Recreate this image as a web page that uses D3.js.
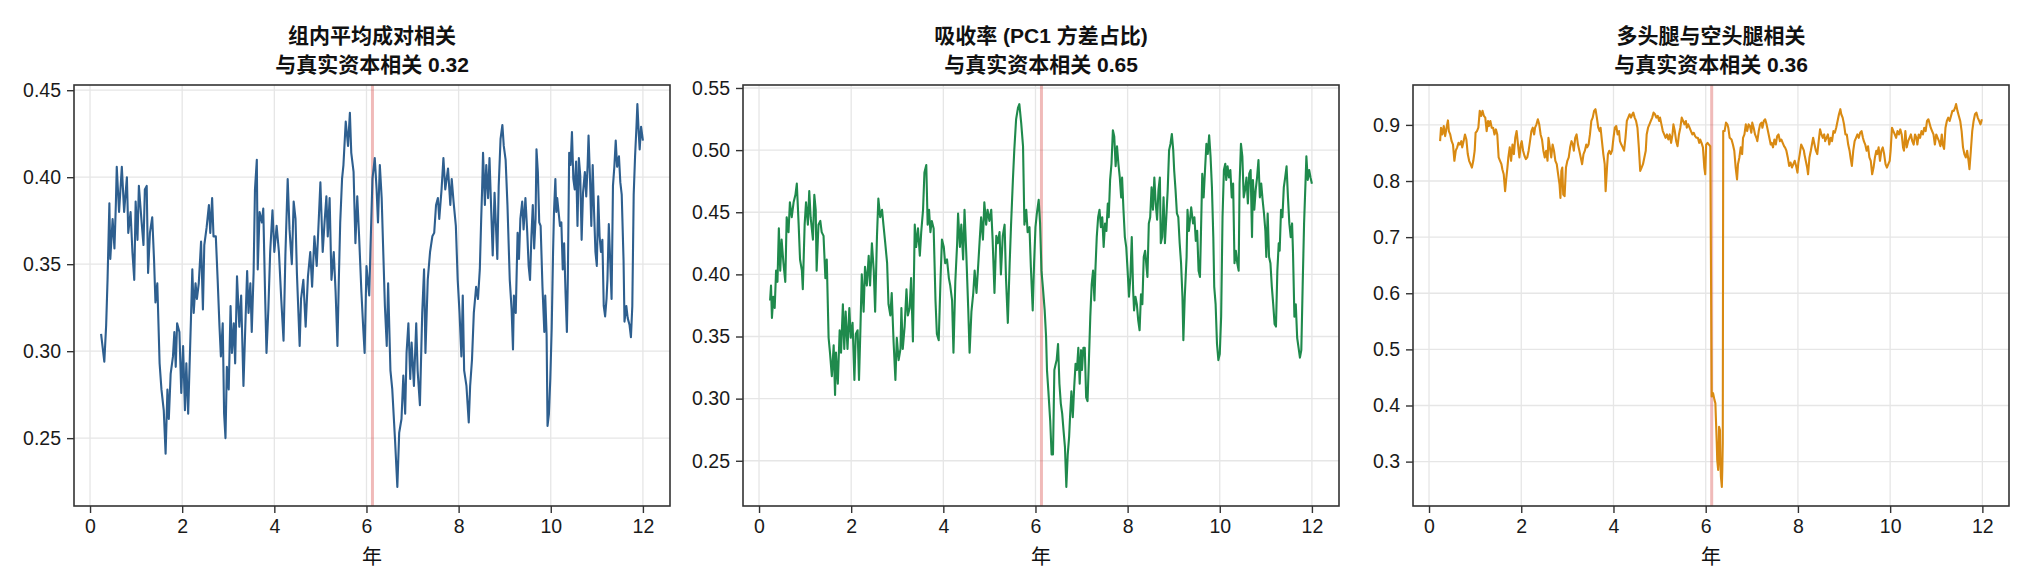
<!DOCTYPE html>
<html><head><meta charset="utf-8">
<script src="https://cdn.jsdelivr.net/npm/d3@7"></script>
<style>
html,body{margin:0;padding:0;background:#fff;}
svg{display:block;font-family:"Liberation Sans","Noto Sans CJK SC",sans-serif;}
</style></head>
<body><svg id="chart" width="2030" height="588"></svg>
<script>
// ---- data (year, value) ----
const titles = [
  ["组内平均成对相关", "与真实资本相关 0.32"],
  ["吸收率 (PC1 方差占比)", "与真实资本相关 0.65"],
  ["多头腿与空头腿相关", "与真实资本相关 0.36"]
];
const xLabel = "年";
const xTicks = [0, 2, 4, 6, 8, 10, 12];
const yTicks1 = [0.25, 0.30, 0.35, 0.40, 0.45];
const yTicks2 = [0.25, 0.30, 0.35, 0.40, 0.45, 0.50, 0.55];
const yTicks3 = [0.3, 0.4, 0.5, 0.6, 0.7, 0.8, 0.9];
const eventYear = 6.13;

const avgCorr = [
[0.24,0.31],[0.27,0.303],[0.31,0.294],[0.35,0.315],[0.38,0.341],[0.42,0.385],[0.44,0.353],[0.49,0.376],[0.53,0.359],[0.56,0.384],[0.58,0.406],[0.63,0.38],[0.69,0.406],[0.74,0.38],[0.80,0.40],[0.83,0.368],[0.88,0.38],[0.92,0.357],[0.96,0.341],[0.99,0.386],[1.03,0.364],[1.06,0.395],[1.12,0.374],[1.16,0.361],[1.19,0.393],[1.23,0.395],[1.26,0.345],[1.30,0.368],[1.35,0.377],[1.39,0.352],[1.42,0.328],[1.46,0.339],[1.51,0.293],[1.55,0.278],[1.60,0.266],[1.64,0.241],[1.68,0.278],[1.71,0.261],[1.75,0.287],[1.80,0.297],[1.83,0.311],[1.86,0.291],[1.89,0.316],[1.94,0.311],[1.98,0.276],[2.02,0.303],[2.06,0.266],[2.09,0.293],[2.13,0.264],[2.16,0.291],[2.19,0.318],[2.22,0.347],[2.25,0.322],[2.29,0.339],[2.32,0.33],[2.36,0.339],[2.41,0.363],[2.45,0.324],[2.48,0.361],[2.53,0.371],[2.58,0.384],[2.61,0.368],[2.65,0.388],[2.68,0.366],[2.73,0.366],[2.77,0.341],[2.81,0.314],[2.84,0.297],[2.88,0.316],[2.91,0.264],[2.94,0.25],[2.97,0.291],[3.01,0.278],[3.05,0.326],[3.08,0.299],[3.12,0.316],[3.15,0.293],[3.19,0.343],[3.24,0.314],[3.28,0.332],[3.33,0.28],[3.37,0.314],[3.41,0.346],[3.44,0.322],[3.48,0.339],[3.51,0.311],[3.55,0.345],[3.58,0.393],[3.62,0.41],[3.64,0.347],[3.68,0.38],[3.73,0.374],[3.76,0.382],[3.80,0.332],[3.83,0.299],[3.87,0.324],[3.91,0.357],[3.96,0.381],[4.0,0.357],[4.05,0.372],[4.10,0.357],[4.15,0.33],[4.2,0.306],
[4.24,0.355],[4.29,0.399],[4.33,0.37],[4.38,0.35],[4.42,0.386],[4.46,0.376],[4.49,0.345],[4.55,0.303],[4.58,0.33],[4.63,0.341],[4.68,0.314],[4.73,0.343],[4.78,0.357],[4.82,0.337],[4.87,0.366],[4.92,0.349],[5.0,0.397],[5.05,0.357],[5.09,0.374],[5.13,0.389],[5.16,0.366],[5.20,0.388],[5.24,0.341],[5.29,0.357],[5.33,0.334],[5.37,0.303],[5.40,0.341],[5.43,0.374],[5.47,0.399],[5.50,0.407],[5.55,0.432],[5.60,0.418],[5.64,0.437],[5.67,0.414],[5.72,0.403],[5.76,0.362],[5.80,0.389],[5.84,0.366],[5.89,0.334],[5.93,0.313],[5.96,0.299],[6.0,0.349],[6.06,0.332],[6.09,0.362],[6.13,0.399],[6.18,0.411],[6.22,0.393],[6.25,0.374],[6.29,0.407],[6.33,0.388],[6.36,0.361],[6.4,0.326],[6.44,0.303],[6.47,0.339],[6.52,0.289],[6.56,0.278],[6.62,0.249],[6.67,0.222],[6.71,0.253],[6.76,0.261],[6.8,0.286],[6.84,0.264],[6.87,0.299],[6.91,0.316],[6.95,0.284],[6.98,0.305],[7.03,0.28],[7.08,0.316],[7.11,0.289],[7.16,0.269],[7.21,0.322],[7.25,0.347],[7.28,0.299],[7.33,0.341],[7.38,0.357],[7.43,0.366],[7.47,0.368],[7.51,0.384],[7.55,0.388],[7.58,0.376],[7.63,0.393],[7.67,0.411],[7.71,0.393],[7.77,0.405],[7.82,0.384],[7.85,0.399],[7.89,0.386],[7.94,0.372],[7.98,0.341],[8.02,0.322],[8.06,0.297],[8.09,0.332],[8.12,0.289],[8.17,0.28],[8.22,0.259],[8.25,0.28],[8.29,0.295],[8.33,0.322],[8.38,0.337],[8.42,0.33],[8.46,0.347],[8.49,0.376],[8.51,0.393],[8.53,0.414],[8.57,0.384],[8.6,0.407],[8.64,0.388],[8.67,0.411],[8.74,0.355],[8.78,0.391],[8.84,0.353],[8.87,0.395],[8.91,0.422],[8.95,0.43],[8.98,0.418],[9.02,0.41],
[9.06,0.384],[9.11,0.341],[9.15,0.324],[9.18,0.301],[9.20,0.332],[9.24,0.322],[9.28,0.368],[9.31,0.353],[9.34,0.376],[9.38,0.386],[9.41,0.37],[9.45,0.388],[9.49,0.368],[9.52,0.349],[9.55,0.341],[9.58,0.366],[9.61,0.384],[9.64,0.359],[9.67,0.376],[9.69,0.416],[9.72,0.403],[9.75,0.374],[9.78,0.372],[9.82,0.337],[9.86,0.311],[9.88,0.332],[9.91,0.309],[9.93,0.257],[9.96,0.264],[9.99,0.284],[10.02,0.313],[10.05,0.357],[10.07,0.38],[10.1,0.399],[10.12,0.38],[10.14,0.388],[10.17,0.38],[10.2,0.372],[10.23,0.374],[10.26,0.347],[10.29,0.362],[10.32,0.334],[10.35,0.311],[10.37,0.341],[10.4,0.414],[10.43,0.407],[10.46,0.426],[10.49,0.399],[10.52,0.393],[10.55,0.409],[10.58,0.372],[10.61,0.411],[10.64,0.401],[10.67,0.364],[10.7,0.391],[10.74,0.403],[10.77,0.389],[10.8,0.407],[10.82,0.424],[10.85,0.401],[10.88,0.372],[10.91,0.407],[10.94,0.38],[10.97,0.357],[11.0,0.349],[11.03,0.389],[11.06,0.366],[11.09,0.357],[11.12,0.364],[11.15,0.326],[11.18,0.32],[11.21,0.33],[11.23,0.341],[11.26,0.373],[11.29,0.352],[11.32,0.33],[11.35,0.395],[11.38,0.406],[11.41,0.421],[11.44,0.406],[11.48,0.412],[11.51,0.397],[11.54,0.39],[11.58,0.352],[11.6,0.317],[11.64,0.326],[11.67,0.319],[11.71,0.315],[11.74,0.308],[11.77,0.326],[11.8,0.39],[11.83,0.412],[11.86,0.429],[11.88,0.442],[11.91,0.425],[11.93,0.416],[11.96,0.429],[11.98,0.425],[12.0,0.421]
];

const absorption = [
[0.24,0.379],[0.26,0.391],[0.28,0.365],[0.31,0.382],[0.34,0.373],[0.37,0.403],[0.40,0.394],[0.43,0.437],[0.46,0.403],[0.49,0.428],[0.53,0.409],[0.57,0.394],[0.60,0.446],[0.64,0.434],[0.67,0.458],[0.71,0.446],[0.75,0.458],[0.79,0.464],[0.82,0.473],[0.86,0.44],[0.89,0.412],[0.93,0.403],[0.95,0.388],[0.99,0.44],[1.02,0.458],[1.06,0.44],[1.09,0.467],[1.12,0.446],[1.17,0.428],[1.20,0.464],[1.23,0.452],[1.25,0.403],[1.29,0.44],[1.33,0.443],[1.36,0.434],[1.40,0.431],[1.44,0.397],[1.47,0.412],[1.51,0.349],[1.54,0.337],[1.58,0.318],[1.62,0.343],[1.65,0.303],[1.67,0.337],[1.71,0.312],[1.75,0.355],[1.78,0.337],[1.82,0.376],[1.85,0.34],[1.88,0.37],[1.92,0.34],[1.96,0.373],[1.99,0.349],[2.03,0.361],[2.07,0.315],[2.10,0.352],[2.14,0.355],[2.17,0.315],[2.20,0.355],[2.23,0.40],[2.27,0.37],[2.30,0.406],[2.34,0.391],[2.38,0.415],[2.41,0.391],[2.45,0.425],[2.49,0.403],[2.52,0.37],[2.56,0.431],[2.59,0.461],[2.63,0.446],[2.67,0.452],[2.70,0.44],[2.74,0.425],[2.78,0.409],[2.81,0.376],[2.85,0.367],[2.88,0.385],[2.92,0.346],[2.96,0.315],[2.99,0.349],[3.03,0.331],[3.07,0.34],[3.09,0.373],[3.12,0.34],[3.16,0.358],[3.20,0.388],[3.23,0.367],[3.27,0.373],[3.30,0.397],[3.34,0.346],[3.38,0.44],[3.41,0.422],[3.45,0.437],[3.49,0.415],[3.52,0.434],[3.56,0.452],[3.59,0.482],[3.63,0.488],[3.66,0.44],[3.69,0.452],[3.72,0.434],[3.75,0.443],[3.79,0.437],[3.83,0.379],[3.86,0.352],[3.90,0.347],[3.94,0.397],[3.97,0.428],[4.01,0.422],[4.04,0.409],[4.08,0.412],[4.12,0.397],[4.15,0.391],[4.19,0.379],[4.22,0.337],[4.26,0.394],[4.30,0.425],[4.32,0.449],[4.36,0.422],[4.39,0.44],[4.43,0.412],[4.46,0.452],[4.50,0.415],[4.54,0.373],[4.57,0.337],[4.61,0.37],[4.65,0.385],[4.68,0.403],[4.72,0.385],[4.75,0.403],[4.79,0.428],[4.82,0.446],[4.86,0.428],[4.89,0.458],[4.93,0.44],[4.96,0.452],[5.00,0.443],[5.04,0.452],[5.07,0.428],[5.11,0.385],[5.15,0.431],[5.18,0.425],[5.22,0.434],[5.25,0.40],[5.29,0.431],[5.33,0.44],[5.36,0.397],[5.40,0.361],[5.44,0.409],[5.47,0.44],[5.51,0.476],[5.54,0.50],[5.58,0.525],[5.62,0.534],[5.65,0.537],[5.69,0.522],[5.73,0.503],[5.76,0.44],[5.80,0.452],[5.83,0.434],
[5.87,0.438],[5.90,0.406],[5.94,0.371],[5.97,0.409],[6.0,0.438],[6.03,0.449],[6.07,0.46],[6.10,0.441],[6.13,0.403],[6.16,0.39],[6.2,0.371],[6.23,0.35],[6.25,0.323],[6.28,0.306],[6.32,0.282],[6.35,0.255],[6.38,0.255],[6.41,0.323],[6.44,0.328],[6.46,0.331],[6.49,0.344],[6.52,0.312],[6.55,0.296],[6.58,0.288],[6.61,0.274],[6.64,0.261],[6.67,0.229],[6.70,0.255],[6.73,0.269],[6.75,0.285],[6.78,0.306],[6.81,0.285],[6.84,0.309],[6.87,0.328],[6.90,0.323],[6.93,0.341],[6.96,0.312],[6.99,0.339],[7.01,0.323],[7.04,0.341],[7.07,0.341],[7.1,0.301],[7.13,0.298],[7.16,0.331],[7.19,0.366],[7.22,0.392],[7.25,0.403],[7.28,0.379],[7.30,0.403],[7.33,0.43],[7.36,0.446],[7.39,0.452],[7.42,0.438],[7.45,0.446],[7.48,0.422],[7.51,0.441],[7.54,0.435],[7.57,0.457],[7.59,0.446],[7.62,0.476],[7.65,0.489],[7.68,0.516],[7.71,0.511],[7.74,0.487],[7.77,0.503],[7.80,0.489],[7.83,0.478],[7.86,0.462],[7.88,0.478],[7.91,0.452],[7.94,0.43],[7.97,0.422],[8.0,0.403],[8.03,0.382],[8.06,0.398],[8.09,0.43],[8.12,0.387],[8.14,0.371],[8.17,0.382],[8.20,0.376],[8.23,0.363],[8.26,0.355],[8.29,0.384],[8.32,0.376],[8.35,0.414],[8.38,0.419],[8.41,0.406],[8.43,0.398],[8.46,0.441],[8.49,0.446],[8.52,0.47],[8.55,0.452],[8.58,0.478],[8.61,0.457],[8.64,0.444],[8.67,0.468],[8.70,0.478],[8.72,0.425],[8.75,0.43],[8.78,0.462],[8.81,0.425],[8.84,0.446],[8.87,0.468],[8.90,0.50],[8.93,0.505],[8.96,0.513],[8.99,0.50],[9.01,0.484],[9.04,0.468],[9.07,0.449],[9.10,0.446],[9.13,0.425],[9.16,0.409],[9.19,0.382],[9.21,0.347],[9.24,0.382],[9.28,0.414],[9.30,0.452],[9.33,0.435],[9.36,0.446],[9.38,0.454],[9.42,0.441],[9.45,0.446],[9.48,0.427],[9.51,0.435],[9.54,0.403],[9.57,0.398],[9.59,0.43],[9.62,0.481],[9.65,0.462],[9.68,0.484],[9.71,0.505],[9.74,0.497],[9.77,0.512],[9.80,0.495],[9.83,0.47],[9.86,0.43],[9.88,0.39],[9.91,0.376],[9.94,0.344],[9.97,0.331],[10.0,0.336],[10.03,0.366],[10.06,0.446],[10.09,0.484],[10.12,0.489],[10.14,0.476],[10.17,0.487],[10.20,0.478],[10.23,0.484],[10.26,0.462],[10.29,0.473],[10.32,0.409],[10.35,0.419],[10.38,0.409],[10.41,0.403],[10.43,0.473],[10.46,0.505],[10.49,0.495],[10.52,0.462],[10.55,0.468],[10.58,0.478],[10.61,0.457],[10.64,0.481],[10.67,0.484],[10.70,0.43],[10.72,0.476],[10.75,0.452],[10.78,0.468],[10.81,0.478],[10.84,0.492],[10.87,0.462],[10.90,0.473],[10.93,0.46],[10.96,0.449],[10.99,0.435],[11.01,0.414],[11.04,0.449],[11.07,0.414],[11.10,0.409],[11.13,0.39],[11.16,0.376],[11.19,0.36],[11.22,0.358],[11.25,0.403],[11.28,0.425],[11.30,0.419],[11.33,0.452],[11.36,0.446],[11.39,0.47],[11.42,0.478],[11.45,0.487],[11.48,0.462],[11.51,0.441],[11.54,0.43],[11.57,0.441],[11.59,0.417],[11.62,0.366],[11.65,0.376],[11.68,0.349],[11.71,0.341],[11.74,0.333],[11.77,0.339],[11.80,0.392],[11.83,0.441],[11.86,0.473],[11.88,0.495],[11.91,0.476],[11.94,0.484],[11.97,0.478],[12.0,0.473]
];

const legCorr = [
[0.24,0.871],[0.26,0.895],[0.29,0.883],[0.32,0.898],[0.35,0.88],[0.38,0.895],[0.41,0.908],[0.43,0.889],[0.46,0.883],[0.49,0.871],[0.52,0.865],[0.55,0.836],[0.58,0.854],[0.61,0.86],[0.64,0.868],[0.67,0.865],[0.70,0.871],[0.72,0.86],[0.75,0.871],[0.78,0.883],[0.81,0.874],[0.84,0.848],[0.87,0.836],[0.90,0.83],[0.93,0.824],[0.96,0.836],[0.99,0.854],[1.01,0.886],[1.04,0.889],[1.07,0.895],[1.10,0.925],[1.13,0.916],[1.16,0.925],[1.19,0.916],[1.22,0.913],[1.25,0.889],[1.28,0.907],[1.30,0.898],[1.33,0.907],[1.36,0.895],[1.39,0.895],[1.42,0.883],[1.45,0.892],[1.48,0.883],[1.51,0.842],[1.54,0.836],[1.57,0.83],[1.59,0.821],[1.62,0.812],[1.65,0.782],[1.67,0.80],[1.70,0.824],[1.72,0.842],[1.75,0.86],[1.78,0.836],[1.81,0.865],[1.84,0.848],[1.87,0.877],[1.90,0.889],[1.93,0.865],[1.96,0.842],[1.99,0.865],[2.01,0.871],[2.04,0.854],[2.07,0.845],[2.10,0.839],[2.13,0.842],[2.16,0.854],[2.19,0.871],[2.22,0.889],[2.25,0.895],[2.28,0.883],[2.30,0.895],[2.33,0.901],[2.36,0.91],[2.39,0.901],[2.42,0.883],[2.45,0.874],[2.48,0.854],[2.51,0.842],[2.54,0.854],[2.57,0.836],[2.59,0.877],[2.62,0.86],[2.65,0.842],[2.68,0.865],[2.71,0.854],[2.74,0.836],[2.77,0.83],[2.80,0.812],[2.83,0.794],[2.85,0.77],[2.87,0.818],[2.89,0.824],[2.91,0.776],[2.94,0.773],[2.97,0.824],[3.0,0.836],[3.03,0.842],[3.06,0.86],[3.09,0.871],[3.12,0.865],[3.14,0.854],[3.17,0.877],[3.20,0.883],[3.23,0.865],[3.26,0.854],[3.29,0.842],[3.32,0.83],[3.35,0.848],[3.38,0.854],[3.41,0.865],[3.43,0.86],[3.46,0.865],[3.49,0.883],[3.52,0.907],[3.55,0.913],[3.58,0.925],[3.61,0.928],[3.64,0.913],[3.67,0.895],[3.70,0.889],[3.72,0.895],[3.75,0.871],[3.78,0.848],[3.81,0.83],[3.83,0.782],[3.86,0.824],[3.88,0.848],[3.91,0.854],[3.94,0.848],[3.97,0.854],[4.0,0.877],[4.03,0.895],[4.06,0.898],[4.09,0.883],[4.12,0.889],[4.14,0.871],[4.17,0.865],[4.20,0.86],[4.23,0.854],[4.26,0.877],[4.29,0.907],[4.32,0.913],[4.35,0.919],[4.38,0.913],[4.41,0.919],[4.43,0.922],[4.46,0.913],[4.49,0.907],[4.52,0.895],[4.55,0.86],[4.58,0.818],[4.61,0.824],[4.64,0.83],[4.67,0.842],[4.70,0.854],[4.72,0.883],[4.75,0.895],[4.78,0.901],[4.81,0.907],[4.84,0.913],[4.87,0.922],[4.90,0.919],[4.93,0.913],[4.96,0.916],[4.99,0.907],[5.01,0.913],[5.04,0.901],[5.07,0.889],[5.10,0.883],[5.13,0.877],[5.16,0.883],[5.19,0.874],[5.22,0.883],[5.25,0.868],[5.28,0.883],[5.30,0.901],[5.33,0.889],[5.36,0.871],[5.39,0.862],[5.42,0.883],[5.45,0.895],[5.48,0.913],[5.51,0.907],[5.54,0.901],[5.57,0.907],[5.59,0.895],[5.62,0.901],[5.65,0.895],[5.68,0.889],[5.71,0.883],[5.74,0.886],[5.77,0.88],[5.80,0.877],[5.83,0.877],[5.86,0.868],[5.88,0.874],[5.91,0.868],[5.94,0.86],[5.97,0.824],[5.99,0.812],[6.01,0.865],[6.04,0.868],[6.07,0.865],[6.10,0.862],
[6.13,0.416],[6.16,0.422],[6.19,0.41],[6.21,0.404],[6.22,0.38],[6.24,0.333],[6.25,0.303],[6.27,0.285],[6.28,0.303],[6.29,0.362],[6.31,0.356],[6.32,0.297],[6.33,0.273],[6.35,0.255],[6.36,0.285],[6.37,0.333],
[6.38,0.889],[6.41,0.889],[6.44,0.904],[6.47,0.901],[6.49,0.895],[6.52,0.877],[6.56,0.874],[6.59,0.865],[6.62,0.854],[6.65,0.824],[6.68,0.803],[6.70,0.83],[6.73,0.842],[6.76,0.86],[6.79,0.848],[6.81,0.877],[6.84,0.883],[6.87,0.901],[6.90,0.889],[6.93,0.901],[6.96,0.898],[6.99,0.886],[7.01,0.904],[7.04,0.895],[7.07,0.883],[7.10,0.877],[7.12,0.871],[7.15,0.889],[7.18,0.901],[7.21,0.904],[7.23,0.895],[7.26,0.907],[7.29,0.91],[7.32,0.901],[7.35,0.889],[7.38,0.877],[7.41,0.865],[7.43,0.868],[7.46,0.86],[7.49,0.874],[7.52,0.865],[7.55,0.88],[7.58,0.883],[7.61,0.871],[7.64,0.874],[7.67,0.868],[7.70,0.862],[7.72,0.86],[7.75,0.854],[7.78,0.842],[7.81,0.827],[7.84,0.833],[7.87,0.824],[7.90,0.83],[7.93,0.836],[7.96,0.827],[7.99,0.815],[8.01,0.833],[8.04,0.848],[8.07,0.865],[8.10,0.86],[8.13,0.854],[8.14,0.848],[8.17,0.836],[8.20,0.824],[8.22,0.812],[8.25,0.842],[8.28,0.854],[8.33,0.877],[8.36,0.865],[8.39,0.854],[8.42,0.848],[8.45,0.871],[8.48,0.892],[8.51,0.883],[8.54,0.877],[8.57,0.883],[8.59,0.871],[8.62,0.877],[8.65,0.883],[8.68,0.865],[8.71,0.877],[8.74,0.871],[8.77,0.889],[8.80,0.886],[8.83,0.895],[8.86,0.907],[8.89,0.919],[8.92,0.928],[8.94,0.919],[8.97,0.913],[9.0,0.901],[9.03,0.883],[9.06,0.883],[9.09,0.865],[9.12,0.854],[9.14,0.842],[9.17,0.827],[9.20,0.854],[9.23,0.871],[9.26,0.877],[9.29,0.883],[9.32,0.877],[9.35,0.886],[9.38,0.889],[9.41,0.877],[9.43,0.871],[9.46,0.865],[9.49,0.854],[9.52,0.862],[9.55,0.842],[9.58,0.836],[9.61,0.812],[9.64,0.824],[9.67,0.842],[9.70,0.854],[9.72,0.848],[9.75,0.86],[9.78,0.836],[9.81,0.854],[9.84,0.86],[9.87,0.848],[9.90,0.83],[9.93,0.824],[9.96,0.83],[9.99,0.836],[10.01,0.854],[10.04,0.895],[10.07,0.889],[10.10,0.883],[10.13,0.877],[10.16,0.889],[10.19,0.883],[10.22,0.892],[10.25,0.883],[10.28,0.86],[10.30,0.854],[10.33,0.889],[10.36,0.86],[10.39,0.871],[10.42,0.877],[10.45,0.883],[10.48,0.871],[10.51,0.865],[10.54,0.883],[10.57,0.877],[10.59,0.865],[10.62,0.883],[10.65,0.877],[10.68,0.889],[10.71,0.883],[10.74,0.895],[10.77,0.889],[10.80,0.907],[10.83,0.91],[10.86,0.901],[10.88,0.895],[10.91,0.889],[10.94,0.883],[10.97,0.865],[11.0,0.883],[11.03,0.877],[11.06,0.871],[11.09,0.862],[11.12,0.883],[11.14,0.865],[11.17,0.857],[11.20,0.895],[11.23,0.907],[11.26,0.913],[11.29,0.907],[11.32,0.916],[11.35,0.925],[11.38,0.925],[11.41,0.931],[11.43,0.937],[11.46,0.925],[11.49,0.916],[11.52,0.907],[11.55,0.889],[11.58,0.86],[11.61,0.848],[11.64,0.842],[11.67,0.854],[11.70,0.836],[11.72,0.821],[11.75,0.854],[11.78,0.889],[11.81,0.907],[11.84,0.919],[11.87,0.922],[11.90,0.913],[11.93,0.907],[11.96,0.901],[11.99,0.91]
];

const series = [avgCorr, absorption, legCorr];
const colors = ["#2e5f8f", "#1f8a4c", "#d98a12"];
const yTicksAll = [yTicks1, yTicks2, yTicks3];
const yFormats = [d3.format(".2f"), d3.format(".2f"), d3.format(".1f")];

// ---- layout ----
const panelLeft = [74, 743, 1413];
const panelW = 596;
const plotTop = 85, plotBottom = 506;
const svg = d3.select("#chart");
const fontStack = '"Liberation Sans", "Noto Sans CJK SC", sans-serif';

series.forEach((data, i) => {
  const x0 = panelLeft[i];
  const xe = d3.extent(data, d => d[0]), ye = d3.extent(data, d => d[1]);
  const xp = (xe[1] - xe[0]) * 0.05, yp = (ye[1] - ye[0]) * 0.05;
  const x = d3.scaleLinear().domain([xe[0] - xp, xe[1] + xp]).range([x0, x0 + panelW]);
  const y = d3.scaleLinear().domain([ye[0] - yp, ye[1] + yp]).range([plotBottom, plotTop]);

  const g = svg.append("g");
  // grid
  g.append("g").selectAll("line").data(xTicks).join("line")
    .attr("x1", d => x(d)).attr("x2", d => x(d)).attr("y1", plotTop).attr("y2", plotBottom)
    .attr("stroke", "#e6e6e6").attr("stroke-width", 1.3);
  g.append("g").selectAll("line").data(yTicksAll[i]).join("line")
    .attr("x1", x0).attr("x2", x0 + panelW).attr("y1", d => y(d)).attr("y2", d => y(d))
    .attr("stroke", "#e6e6e6").attr("stroke-width", 1.3);

  // event line
  g.append("line").attr("x1", x(eventYear)).attr("x2", x(eventYear))
    .attr("y1", plotTop).attr("y2", plotBottom)
    .attr("stroke", "#d9534f").attr("stroke-opacity", 0.4).attr("stroke-width", 3);

  // series
  g.append("path").datum(data)
    .attr("fill", "none").attr("stroke", colors[i]).attr("stroke-width", 2.1)
    .attr("stroke-linejoin", "round")
    .attr("d", d3.line().x(d => x(d[0])).y(d => y(d[1])));

  // axes
  const xa = d3.axisBottom(x).tickValues(xTicks).tickSize(7).tickPadding(6).tickFormat(d3.format("d"));
  const ya = d3.axisLeft(y).tickValues(yTicksAll[i]).tickSize(7).tickPadding(6).tickFormat(yFormats[i]);
  const gx = g.append("g").attr("transform", `translate(0,${plotBottom})`).call(xa);
  const gy = g.append("g").attr("transform", `translate(${x0},0)`).call(ya);
  [gx, gy].forEach(a => {
    a.select(".domain").remove();
    a.selectAll(".tick line").attr("stroke", "#333").attr("stroke-width", 1.4);
    a.selectAll(".tick text").attr("fill", "#1a1a1a")
      .style("font-size", "19.5px").style("font-family", fontStack);
  });

  // frame
  g.append("rect").attr("x", x0).attr("y", plotTop).attr("width", panelW).attr("height", plotBottom - plotTop)
    .attr("fill", "none").attr("stroke", "#333").attr("stroke-width", 1.6);

  // titles
  const cx = x0 + panelW / 2;
  g.append("text").attr("x", cx).attr("y", 43).attr("text-anchor", "middle")
    .style("font-size", "21px").style("font-weight", "bold").style("font-family", fontStack)
    .attr("fill", "#111").text(titles[i][0]);
  g.append("text").attr("x", cx).attr("y", 72).attr("text-anchor", "middle")
    .style("font-size", "21px").style("font-weight", "bold").style("font-family", fontStack)
    .attr("fill", "#111").text(titles[i][1]);
  // x label
  g.append("text").attr("x", cx).attr("y", 564).attr("text-anchor", "middle")
    .style("font-size", "20px").style("font-family", fontStack)
    .attr("fill", "#111").text(xLabel);
});
</script></body></html>
